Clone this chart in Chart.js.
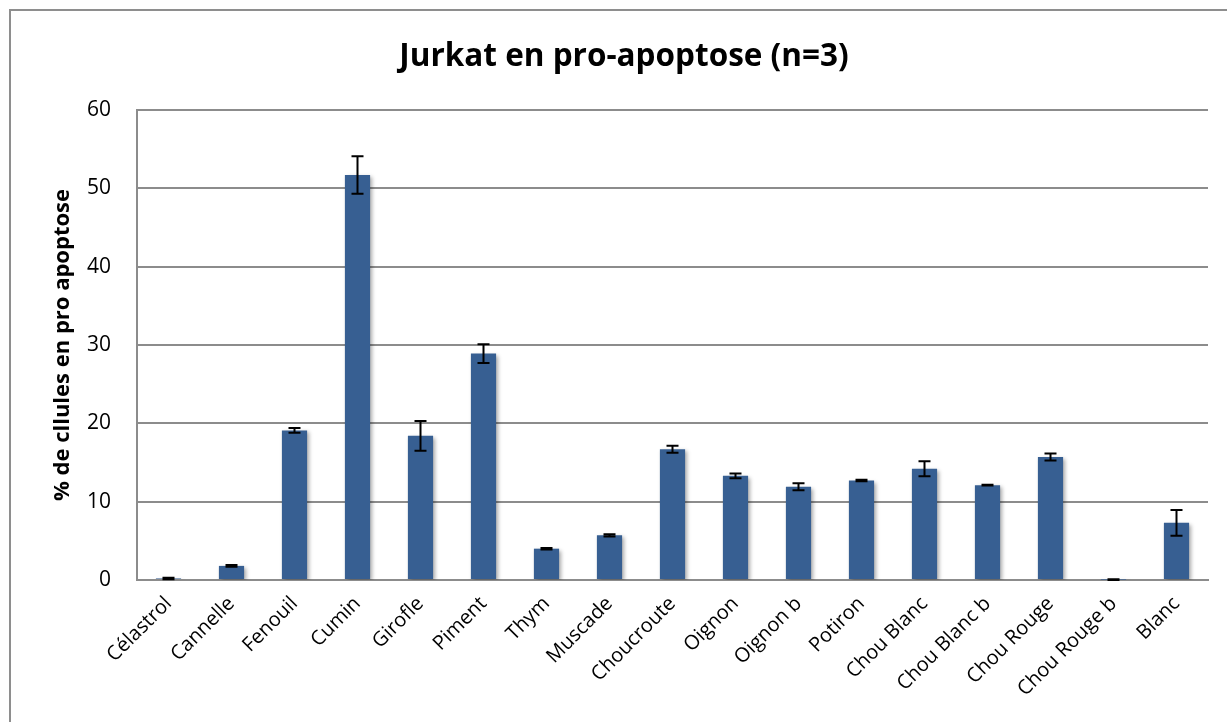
<!DOCTYPE html>
<html>
<head>
<meta charset="utf-8">
<script src="https://cdn.jsdelivr.net/npm/chart.js@4"></script>
<style>
  html, body { margin: 0; padding: 0; background: #ffffff; }
  #wrap { position: relative; width: 1227px; height: 722px; overflow: hidden; }
  #frame { position: absolute; left: 9px; top: 9px; width: 1240px; height: 740px; border: 2px solid #8e8e8e; box-sizing: border-box; pointer-events: none; }
  canvas { position: absolute; left: 0; top: 0; }
</style>
</head>
<body>
<div id="wrap">
  <canvas id="c" width="1227" height="722"></canvas>
  <div id="frame"></div>
</div>
<script>
const categories = ["Célastrol", "Cannelle", "Fenouil", "Cumin", "Girofle", "Piment", "Thym", "Muscade", "Choucroute", "Oignon", "Oignon b", "Potiron", "Chou Blanc", "Chou Blanc b", "Chou Rouge", "Chou Rouge b", "Blanc"];
const values = [0.2, 1.8, 19.1, 51.7, 18.4, 28.9, 4.0, 5.7, 16.7, 13.3, 11.9, 12.7, 14.2, 12.1, 15.7, 0.05, 7.3];
const errors = [0.1, 0.1, 0.3, 2.4, 1.9, 1.2, 0.1, 0.15, 0.45, 0.3, 0.45, 0.1, 0.95, 0.05, 0.45, 0.05, 1.65];
const titleText = "Jurkat en pro-apoptose (n=3)";
const yAxisTitle = "% de cllules en pro apoptose";

const FONT = "'Open Sans', sans-serif";

const titlePlugin = {
  id: 'offsetTitle',
  afterDraw(chart) {
    const ctx = chart.ctx;
    ctx.save();
    ctx.font = "bold 31.5px 'Open Sans', sans-serif";
    ctx.fillStyle = '#000000';
    ctx.textAlign = 'center';
    ctx.textBaseline = 'middle';
    ctx.fillText(titleText, 624, 57);
    ctx.restore();
  }
};

const shadowPlugin = {
  id: 'barShadow',
  beforeDatasetsDraw(chart) {
    const ctx = chart.ctx;
    ctx.save();
    ctx.shadowColor = 'rgba(0,0,0,0.35)';
    ctx.shadowBlur = 4;
    ctx.shadowOffsetX = 2;
    ctx.shadowOffsetY = 2;
  },
  afterDatasetsDraw(chart) {
    chart.ctx.restore();
  }
};

const errorBarPlugin = {
  id: 'errorBars',
  afterDatasetsDraw(chart) {
    const ctx = chart.ctx;
    const meta = chart.getDatasetMeta(0);
    const y = chart.scales.y;
    ctx.save();
    ctx.strokeStyle = '#000000';
    ctx.lineWidth = 2;
    meta.data.forEach((bar, i) => {
      const v = values[i], e = errors[i];
      const x = bar.x;
      const yt = y.getPixelForValue(v + e);
      const yb = y.getPixelForValue(Math.max(0, v - e));
      const cap = 6;
      ctx.beginPath();
      ctx.moveTo(x, yt); ctx.lineTo(x, yb);
      ctx.moveTo(x - cap, yt); ctx.lineTo(x + cap, yt);
      ctx.moveTo(x - cap, yb); ctx.lineTo(x + cap, yb);
      ctx.stroke();
    });
    ctx.restore();
  }
};

new Chart(document.getElementById('c'), {
  type: 'bar',
  data: {
    labels: categories,
    datasets: [{
      data: values,
      backgroundColor: '#375f92',
      borderWidth: 0,
      categoryPercentage: 1.0,
      barPercentage: 0.4
    }]
  },
  options: {
    responsive: false,
    animation: false,
    devicePixelRatio: 1,
    layout: { padding: { top: 110, left: 10, right: 19, bottom: 0 } },
    plugins: {
      legend: { display: false },
      tooltip: { enabled: false },
      title: { display: false }
    },
    scales: {
      x: {
        grid: { display: false, drawTicks: false },
        border: { display: true, color: '#8c8c8c', width: 2 },
        ticks: {
          color: '#000000',
          font: { family: FONT, size: 20 },
          minRotation: 45,
          maxRotation: 45,
          autoSkip: false,
          padding: 12
        },
        afterFit(scale) { scale.height = 142; }
      },
      y: {
        min: 0,
        max: 60,
        ticks: {
          stepSize: 10,
          color: '#000000',
          font: { family: FONT, size: 21 },
          padding: 26
        },
        grid: { color: '#8c8c8c', lineWidth: 2, drawTicks: false },
        border: { display: true, color: '#8c8c8c', width: 2 },
        title: {
          display: true,
          text: yAxisTitle,
          color: '#000000',
          font: { family: FONT, size: 22, weight: 'bold' },
          padding: { top: 40, bottom: 0 }
        },
        afterFit(scale) { scale.width = 127; }
      }
    }
  },
  plugins: [shadowPlugin, errorBarPlugin, titlePlugin]
});
</script>
</body>
</html>
